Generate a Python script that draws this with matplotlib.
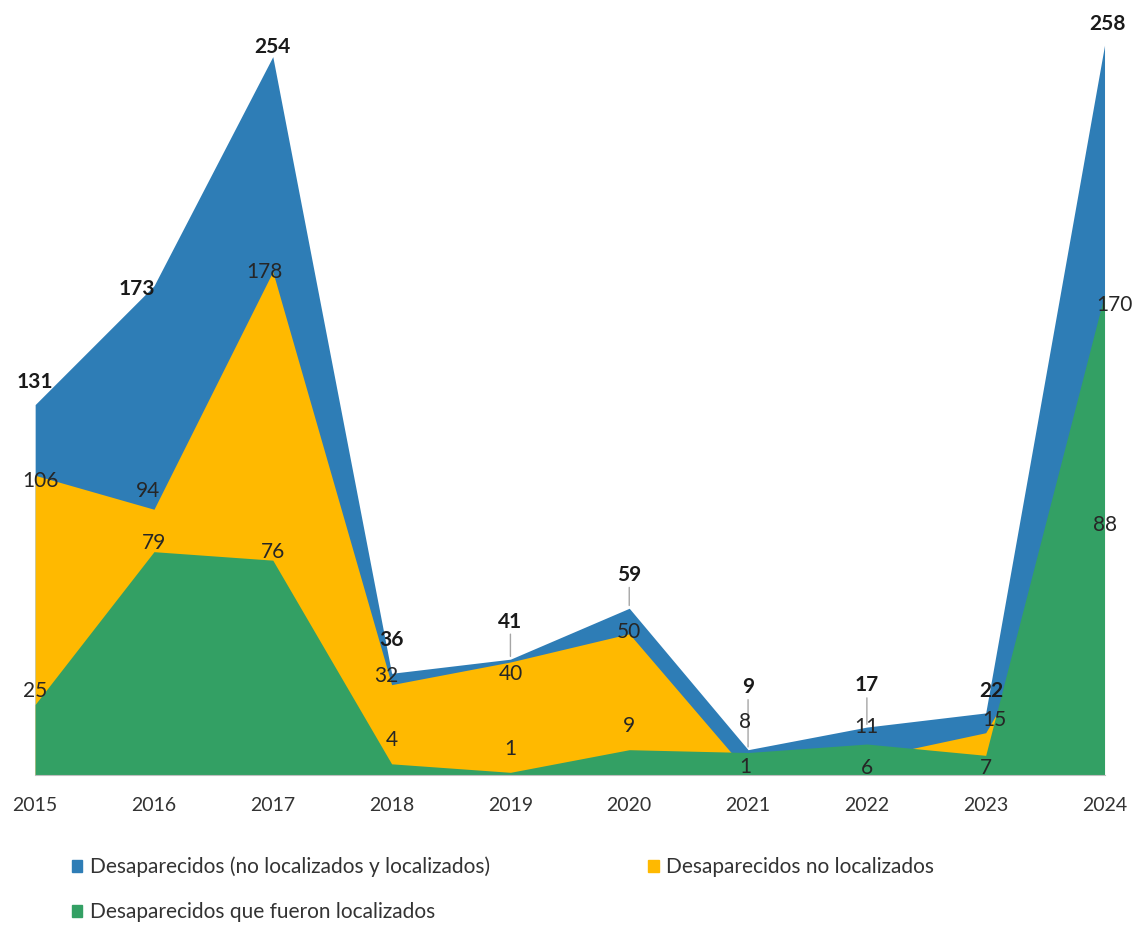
import numpy as np
import matplotlib.pyplot as plt
from matplotlib.patches import Patch

years = ['2015', '2016', '2017', '2018', '2019', '2020', '2021', '2022', '2023', '2024']
total = [131, 173, 254, 36, 41, 59, 9, 17, 22, 258]
no_localizados = [106, 94, 178, 32, 40, 50, 1, 6, 15, 88]
localizados = [25, 79, 76, 4, 1, 9, 8, 11, 7, 170]

labels = ['Desaparecidos (no localizados y localizados)',
          'Desaparecidos no localizados',
          'Desaparecidos que fueron localizados']
colors = ['#2E7DB6', '#FFB900', '#33A064']

plt.rcParams['font.family'] = ['Lato', 'DejaVu Sans']

x = np.arange(len(years))
fig = plt.figure(figsize=(11.34, 9.25), dpi=100)
ax = fig.add_axes([0.031, 0.162, 0.943, 0.789])

ax.fill_between(x, total, color=colors[0], lw=0)
ax.fill_between(x, no_localizados, color=colors[1], lw=0)
ax.fill_between(x, localizados, color=colors[2], lw=0)

ax.set_xlim(x[0], x[-1])
ax.set_ylim(0, 258)
ax.set_yticks([])
ax.set_xticks(x)
ax.set_xticklabels(years, fontsize=14, color='#333333')
ax.tick_params(axis='x', length=0, pad=16)
for s in ['top', 'right', 'left']:
    ax.spines[s].set_visible(False)
ax.spines['bottom'].set_color('#bfbfbf')

# label offsets in points (dx, dy)
total_off = [(0, 16), (-12, -2), (0, 7), (0, 24), (0, 27), (0, 24), (0, 45), (0, 30), (4, 16), (2, 15)]
leader = [False, False, False, False, True, True, True, True, False, False]
yellow_off = [(4, -4), (-4, 13), (-6, 0), (-4, 6), (0, -9), (0, 1), (-2, 4), (0, -7), (6, 9), (0, 1)]
green_off = [(0, 10), (0, 6), (0, 6), (0, 17), (0, 17), (0, 17), (-2, 22), (0, 12), (0, -9), (7, -8)]

for i in range(len(years)):
    dx, dy = total_off[i]
    if leader[i]:
        ax.annotate('', (x[i], total[i]), xytext=(dx, dy - 9), textcoords='offset points',
                    arrowprops=dict(arrowstyle='-', color='#a6a6a6', lw=1,
                                    shrinkA=0, shrinkB=2))
    ax.annotate(str(total[i]), (x[i], total[i]), xytext=(dx, dy), textcoords='offset points',
                ha='center', va='center', fontsize=15, fontweight='bold', color='#1a1a1a',
                annotation_clip=False)
    dx, dy = yellow_off[i]
    ax.annotate(str(no_localizados[i]), (x[i], no_localizados[i]), xytext=(dx, dy),
                textcoords='offset points', ha='center', va='center', fontsize=15,
                color='#262626', annotation_clip=False)
    dx, dy = green_off[i]
    ax.annotate(str(localizados[i]), (x[i], localizados[i]), xytext=(dx, dy),
                textcoords='offset points', ha='center', va='center', fontsize=15,
                color='#262626', annotation_clip=False)

handles = [Patch(color=colors[0], label=labels[0]),
           Patch(color=colors[2], label=labels[2]),
           Patch(color=colors[1], label=labels[1])]
fig.legend(handles=handles, ncol=2, loc='upper left', bbox_to_anchor=(0.047, 0.094),
           frameon=False, fontsize=15, handlelength=0.5, handleheight=0.5,
           handletextpad=0.35, columnspacing=7.6, labelspacing=1.2, labelcolor='#333333')

fig.savefig('out.png', dpi=100)
